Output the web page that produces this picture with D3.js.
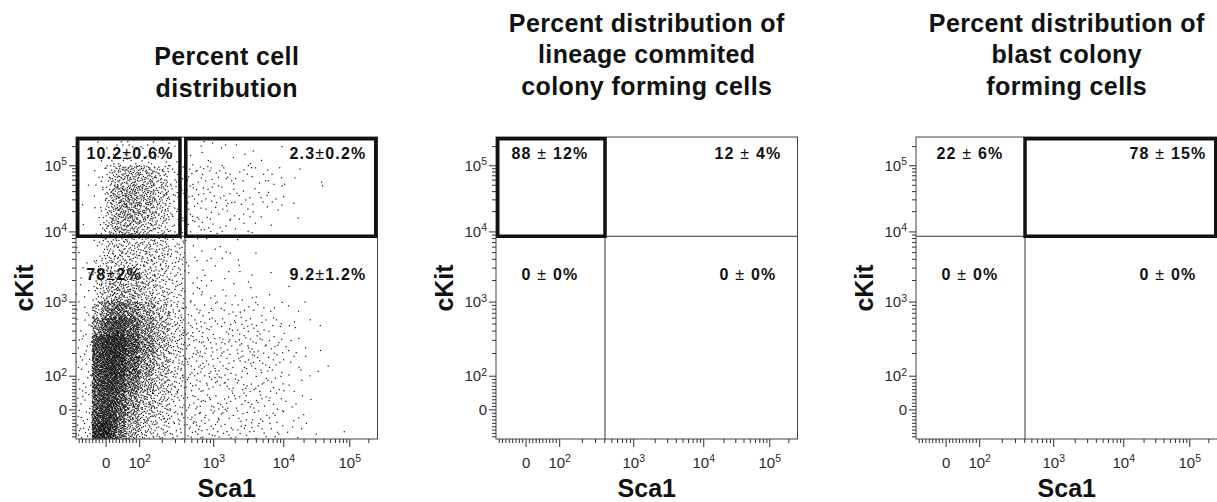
<!DOCTYPE html>
<html>
<head>
<meta charset="utf-8">
<script src="https://cdn.jsdelivr.net/npm/d3@7"></script>
<style>
    body { margin: 0; background: #fff; }
    svg { display: block; font-family: "Liberation Sans", Arial, Helvetica, sans-serif; }
</style>
</head>
<body>
<div id="chart"></div>
<script>
// bin edges of the first dot plot (Sca1 left to right, cKit top to bottom)
const sca1Edges = [-88, -40, -15, 0, 15, 35, 60, 100, 160, 250, 410, 700, 1200, 2000, 3500, 6000, 10000, 20000, 40000, 100000, 280000];
const ckitEdges = [280000, 100000, 50000, 25000, 15000, 8500, 5000, 3000, 1800, 1000, 600, 350, 200, 100, 50, 0, -40, -88];
// events counted per bin (rows = cKit bins, cols = Sca1 bins)
const eventCounts = [
    [0, 1, 1, 2, 4, 7, 14, 14, 9, 5, 3, 5, 4, 3, 2, 1, 0, 0, 0, 0],
    [1, 2, 3, 7, 18, 30, 52, 54, 32, 13, 10, 10, 9, 7, 6, 5, 3, 1, 0, 0],
    [1, 2, 4, 10, 28, 42, 72, 68, 38, 15, 12, 10, 8, 7, 6, 4, 2, 1, 0, 0],
    [1, 2, 3, 8, 20, 32, 52, 46, 28, 11, 8, 6, 5, 4, 3, 2, 1, 0, 0, 0],
    [1, 2, 4, 10, 22, 30, 44, 40, 24, 11, 8, 6, 4, 3, 2, 1, 0, 0, 0, 0],
    [2, 4, 5, 8, 12, 16, 25, 28, 24, 14, 4, 2, 2, 1, 1, 0, 0, 0, 0, 0],
    [2, 5, 6, 9, 13, 17, 26, 28, 22, 14, 4, 3, 2, 2, 1, 0, 0, 0, 0, 0],
    [3, 6, 7, 10, 15, 20, 30, 30, 22, 14, 4, 3, 2, 2, 1, 1, 0, 0, 0, 0],
    [4, 10, 12, 16, 28, 36, 48, 42, 27, 16, 5, 4, 3, 3, 2, 1, 1, 0, 0, 0],
    [5, 22, 25, 34, 52, 68, 85, 66, 36, 20, 8, 7, 6, 6, 5, 3, 2, 1, 0, 0],
    [6, 50, 48, 58, 90, 112, 132, 88, 48, 25, 12, 10, 9, 9, 8, 6, 4, 2, 0, 0],
    [8, 105, 80, 92, 132, 152, 172, 110, 52, 28, 14, 12, 11, 12, 10, 8, 5, 2, 0, 0],
    [10, 140, 95, 105, 150, 170, 180, 110, 55, 28, 18, 15, 14, 14, 12, 9, 6, 2, 1, 0],
    [8, 95, 70, 75, 100, 105, 105, 65, 36, 20, 13, 11, 10, 10, 9, 7, 4, 1, 0, 0],
    [8, 90, 68, 70, 88, 85, 78, 50, 28, 16, 12, 10, 9, 9, 8, 6, 4, 1, 0, 0],
    [8, 85, 62, 62, 70, 62, 52, 32, 20, 12, 10, 8, 7, 7, 6, 5, 3, 1, 0, 0],
    [14, 130, 95, 85, 80, 62, 50, 30, 18, 12, 14, 10, 9, 9, 8, 6, 4, 2, 1, 0]
];

const axisMin = -88, axisMax = 280000;
const majorTicks = [0, 100, 1000, 10000, 100000];
const majorTickLabels = [["0", ""], ["10", "2"], ["10", "3"], ["10", "4"], ["10", "5"]];
const minorDecades = [100, 1000, 10000, 100000];

const panelTitles = [
    ["Percent cell", "distribution"],
    ["Percent distribution of", "lineage commited", "colony forming cells"],
    ["Percent distribution of", "blast colony", "forming cells"]
];
// quadrant texts: upper left, upper right, lower left, lower right
const quadrantLabels = [
    ["10.2±0.6%", "2.3±0.2%", "78±2%", "9.2±1.2%"],
    ["88 ± 12%", "12 ± 4%", "0 ± 0%", "0 ± 0%"],
    ["22 ± 6%", "78 ± 15%", "0 ± 0%", "0 ± 0%"]
];
const gateSca1 = 410, gateCkit = 8500;
// Sca1 ranges of the highlighted (thick) gates above the cKit gate
const highlightGates = [
    [[-88, 350], [420, 280000]],
    [[-88, 410]],
    [[410, 280000]]
];

// display transform: linear around zero, log-like above 100 (biexponential look)
function biex(v) {
    if (v <= 100) return 0.454 * v / 100;
    const d = Math.log10(v) - 2;
    return 0.454 + d - 0.027 * d * (d - 1);
}

// low discrepancy sequence, used to spread the events of a bin over its area
function halton(i, b) {
    let f = 1, r = 0;
    while (i > 0) {
        f /= b;
        r += f * (i % b);
        i = Math.floor(i / b);
    }
    return r;
}

const svgWidth = 1217, svgHeight = 502;
const margin = { top: 137, left: 76 };
const width = 301.5, height = 302, panelStep = 420;

const x = d3.scaleLinear().domain([biex(axisMin), biex(axisMax)]).range([0, width]);
const y = d3.scaleLinear().domain([biex(axisMin), biex(axisMax)]).range([height, 0]);
const sx = v => x(biex(v));
const sy = v => y(biex(v));

// minor ticks: linear steps around zero, 2..9 in every decade
var minorTicks = [];
for (let k = 1; k <= 8; k++) minorTicks.push(-10 * k);
for (let k = 1; k <= 9; k++) minorTicks.push(10 * k);
minorDecades.forEach(dec => {
    for (let k = 2; k <= 9; k++) if (dec * k < axisMax) minorTicks.push(dec * k);
});

const svg = d3.select('#chart').append('svg')
    .attr('width', svgWidth)
    .attr('height', svgHeight);
svg.append('rect').attr('width', svgWidth).attr('height', svgHeight).attr('fill', '#fff');

function styleAxis(axisG) {
    axisG.attr('font-family', null).attr('font-size', null);
    axisG.select('.domain').remove();
    axisG.selectAll('line').attr('stroke', '#333');
    axisG.selectAll('text').attr('fill', '#2a2a2a').style('font-size', '15px');
}

function addSuperscripts(axisG) {
    axisG.selectAll('.tick text').each(function (d, i) {
        const lab = majorTickLabels[i];
        const t = d3.select(this).text(lab[0]);
        if (lab[1]) t.append('tspan').attr('dy', '-0.5em').style('font-size', '10.5px').text(lab[1]);
    });
}

function drawAxes(g) {
    const xMinor = g.append('g').attr('transform', `translate(0,${height})`)
        .call(d3.axisBottom(x).tickValues(minorTicks.map(biex)).tickSize(4).tickFormat(''));
    styleAxis(xMinor);
    const xMajor = g.append('g').attr('transform', `translate(0,${height})`)
        .call(d3.axisBottom(x).tickValues(majorTicks.map(biex)).tickSize(8).tickPadding(10)
            .tickFormat((d, i) => majorTickLabels[i][0]));
    styleAxis(xMajor);
    addSuperscripts(xMajor);

    const yMinor = g.append('g')
        .call(d3.axisLeft(y).tickValues(minorTicks.map(biex)).tickSize(4).tickFormat(''));
    styleAxis(yMinor);
    const yMajor = g.append('g')
        .call(d3.axisLeft(y).tickValues(majorTicks.map(biex)).tickSize(7).tickPadding(2)
            .tickFormat((d, i) => majorTickLabels[i][0]));
    styleAxis(yMajor);
    addSuperscripts(yMajor);
}

function drawEvents(g) {
    const events = [];
    eventCounts.forEach((row, r) => row.forEach((n, c) => {
        const x0 = sx(sca1Edges[c]), x1 = sx(sca1Edges[c + 1]);
        const y0 = sy(ckitEdges[r]), y1 = sy(ckitEdges[r + 1]);
        const s1 = (r * 0.371 + c * 0.617) % 1, s2 = (r * 0.713 + c * 0.291) % 1;
        const start = ((r * 20 + c) * 7) % 53 + 1;
        for (let k = 0; k < n; k++) {
            events.push([
                x0 + ((halton(start + k, 2) + s1) % 1) * (x1 - x0),
                y0 + ((halton(start + k, 3) + s2) % 1) * (y1 - y0)
            ]);
        }
    }));
    g.append('g').attr('class', 'events')
        .selectAll('rect')
        .data(events)
        .join('rect')
        .attr('x', d => d[0] - 0.6)
        .attr('y', d => d[1] - 0.6)
        .attr('width', 1.2)
        .attr('height', 1.2)
        .attr('fill', '#111');
}

function drawLabel(g, txt, cx, by) {
    const parts = txt.split('±');
    const t = g.append('text')
        .attr('x', cx)
        .attr('y', by)
        .attr('text-anchor', 'middle')
        .attr('font-size', 16)
        .attr('font-weight', 'bold')
        .attr('letter-spacing', 1.2)
        .attr('fill', '#111');
    t.append('tspan').text(parts[0]);
    t.append('tspan').attr('font-weight', 'normal').text('±');
    t.append('tspan').text(parts[1]);
}

panelTitles.forEach((title, i) => {
    const g = svg.append('g')
        .attr('transform', `translate(${margin.left + i * panelStep}, ${margin.top})`);

    if (i == 0) drawEvents(g);

    // quadrant gate lines
    g.append('line')
        .attr('x1', sx(gateSca1)).attr('x2', sx(gateSca1))
        .attr('y1', 0).attr('y2', height)
        .attr('stroke', '#333').attr('stroke-width', 1);
    g.append('line')
        .attr('x1', 0).attr('x2', width)
        .attr('y1', sy(gateCkit)).attr('y2', sy(gateCkit))
        .attr('stroke', '#333').attr('stroke-width', 1);

    // plot frame
    g.append('rect')
        .attr('width', width)
        .attr('height', height)
        .attr('fill', 'none')
        .attr('stroke', '#444')
        .attr('stroke-width', 1);

    drawAxes(g);

    // highlighted gates
    const sw = 3.5;
    highlightGates[i].forEach(gate => {
        const rx0 = Math.max(sx(gate[0]), sw / 2), rx1 = Math.min(sx(gate[1]), width - sw / 2);
        const ry0 = Math.max(sy(axisMax), sw / 2), ry1 = sy(gateCkit);
        g.append('rect')
            .attr('x', rx0).attr('y', ry0)
            .attr('width', rx1 - rx0).attr('height', ry1 - ry0)
            .attr('fill', 'none')
            .attr('stroke', '#111')
            .attr('stroke-width', sw);
    });

    // quadrant percentages
    const labs = quadrantLabels[i];
    drawLabel(g, labs[0], 54, 21.5);
    drawLabel(g, labs[1], 252, 21.5);
    drawLabel(g, labs[2], i == 0 ? 38 : 54, 143);
    drawLabel(g, labs[3], 252, 143);

    // axis titles
    g.append('text')
        .attr('x', width / 2)
        .attr('y', 359.7)
        .attr('text-anchor', 'middle')
        .attr('font-size', 25)
        .attr('font-weight', 'bold')
        .attr('fill', '#111')
        .text('Sca1');
    g.append('text')
        .attr('transform', `translate(-43, ${height / 2}) rotate(-90)`)
        .attr('text-anchor', 'middle')
        .attr('font-size', 25)
        .attr('font-weight', 'bold')
        .attr('fill', '#111')
        .text('cKit');

    // panel title, baselines measured from the top of the page
    const firstBase = i == 0 ? 65 : 31.7;
    title.forEach((line, j) => {
        g.append('text')
            .attr('x', width / 2)
            .attr('y', firstBase + j * 31.7 - margin.top)
            .attr('text-anchor', 'middle')
            .attr('font-size', 25)
            .attr('font-weight', 'bold')
            .attr('letter-spacing', 0.4)
            .attr('fill', '#111')
            .text(line);
    });
});
</script>
</body>
</html>
